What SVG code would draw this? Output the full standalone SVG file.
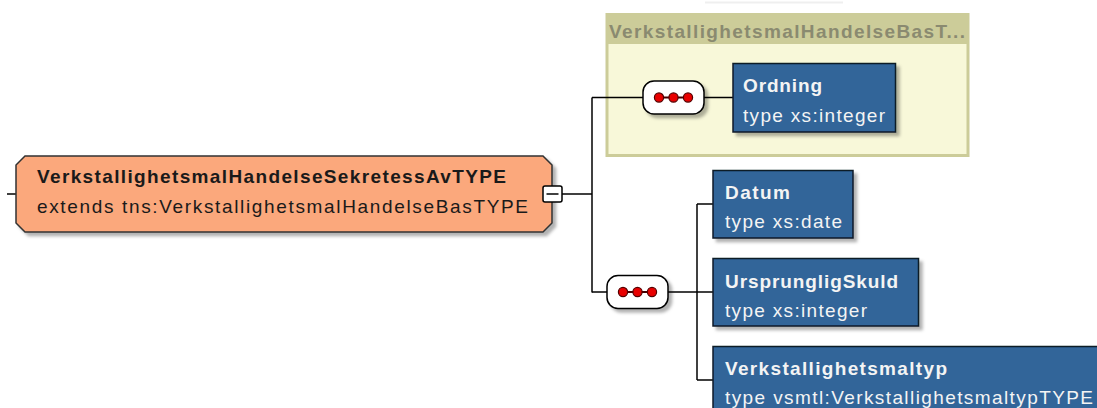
<svg xmlns="http://www.w3.org/2000/svg" width="1097" height="408" viewBox="0 0 1097 408">
<style>
  .t { font-family: "Liberation Sans", Arial, sans-serif; font-size: 19px; }
  .b { font-weight: bold; }
  .dark { fill: #1a1a1a; }
  .white { fill: #f4f4f4; }
  .conn line, .conn polyline { stroke: #000; stroke-width: 1.5; fill: none; }
  .elem { fill: #316599; stroke: #0d1a28; stroke-width: 1.5; }
  .seq { fill: #fff; stroke: #000; stroke-width: 1.5; }
  .dot { fill: #e80000; stroke: #500; stroke-width: 1.2; }
</style>
<defs>
  <filter id="sh" x="-10%" y="-20%" width="130%" height="150%">
    <feDropShadow dx="3.5" dy="3.5" stdDeviation="1.5" flood-color="#000" flood-opacity="0.3"/>
  </filter>
  <g id="dots">
    <line x1="-15" y1="0" x2="15" y2="0" stroke="#400" stroke-width="2"/>
    <circle class="dot" cx="-14.5" cy="0" r="4.6"/>
    <circle class="dot" cx="0" cy="0" r="4.6"/>
    <circle class="dot" cx="14.5" cy="0" r="4.6"/>
  </g>
</defs>
<rect width="1097" height="408" fill="#fff"/>
<line x1="705" y1="2.5" x2="843" y2="2.5" stroke="#efefef" stroke-width="2"/>

<g id="base-group">
  <rect x="605.5" y="13" width="364" height="144" fill="#cccc99"/>
  <rect x="608.5" y="44" width="358" height="110" fill="#f8f8d9"/>
  <text class="t b" x="609" y="38" fill="#8a8a70" textLength="356" lengthAdjust="spacing">VerkstallighetsmalHandelseBasT...</text>
</g>

<g class="conn" id="connectors">
  <line x1="7" y1="194" x2="16" y2="194"/>
  <line x1="562" y1="194" x2="592" y2="194"/>
  <line x1="592" y1="97.5" x2="592" y2="292.5"/>
  <line x1="592" y1="97.5" x2="643" y2="97.5"/>
  <line x1="704" y1="97.5" x2="733" y2="97.5"/>
  <line x1="592" y1="292" x2="607" y2="292"/>
  <line x1="668" y1="292" x2="697" y2="292"/>
  <line x1="697" y1="204" x2="697" y2="380"/>
  <line x1="697" y1="204" x2="713" y2="204"/>
  <line x1="697" y1="292" x2="713" y2="292"/>
  <line x1="697" y1="380" x2="713" y2="380"/>
</g>

<g id="main-type">
  <polygon points="25,156 543,156 552,165 552,223 543,232 25,232 16,223 16,165" fill="#fba87b" stroke="#333" stroke-width="1.5" filter="url(#sh)"/>
  <text class="t b dark" x="37" y="183" textLength="469" lengthAdjust="spacing">VerkstallighetsmalHandelseSekretessAvTYPE</text>
  <text class="t dark" x="37" y="213" textLength="491" lengthAdjust="spacing">extends tns:VerkstallighetsmalHandelseBasTYPE</text>
  <rect x="543" y="186" width="19" height="16" rx="2" fill="#fff" stroke="#000" stroke-width="1.5"/>
  <line x1="546.5" y1="194" x2="558.5" y2="194" stroke="#000" stroke-width="1.5"/>
</g>

<g id="seq-top">
  <rect class="seq" x="643" y="81" width="61" height="33" rx="11" filter="url(#sh)"/>
  <use href="#dots" x="673.5" y="97.5"/>
</g>

<g id="ordning">
  <rect class="elem" x="733" y="63.5" width="162.5" height="68.5" filter="url(#sh)"/>
  <text class="t b white" x="743" y="92" textLength="79" lengthAdjust="spacing">Ordning</text>
  <text class="t white" x="743" y="122" textLength="142" lengthAdjust="spacing">type xs:integer</text>
</g>

<g id="seq-bottom">
  <rect class="seq" x="607" y="275.5" width="61" height="33" rx="11" filter="url(#sh)"/>
  <use href="#dots" x="637.5" y="292"/>
</g>

<g id="datum">
  <rect class="elem" x="713" y="170.5" width="140" height="67.5" filter="url(#sh)"/>
  <text class="t b white" x="725" y="199" textLength="65" lengthAdjust="spacing">Datum</text>
  <text class="t white" x="725" y="228" textLength="117" lengthAdjust="spacing">type xs:date</text>
</g>

<g id="ursprungligskuld">
  <rect class="elem" x="713" y="258.5" width="205.5" height="67.5" filter="url(#sh)"/>
  <text class="t b white" x="725" y="288" textLength="173" lengthAdjust="spacing">UrsprungligSkuld</text>
  <text class="t white" x="725" y="317" textLength="142" lengthAdjust="spacing">type xs:integer</text>
</g>

<g id="verkstallighetsmaltyp">
  <rect class="elem" x="713" y="346.5" width="400" height="70" filter="url(#sh)"/>
  <text class="t b white" x="725" y="375" textLength="222" lengthAdjust="spacing">Verkstallighetsmaltyp</text>
  <text class="t white" x="725" y="404" textLength="368" lengthAdjust="spacing">type vsmtl:VerkstallighetsmaltypTYPE</text>
</g>
</svg>
